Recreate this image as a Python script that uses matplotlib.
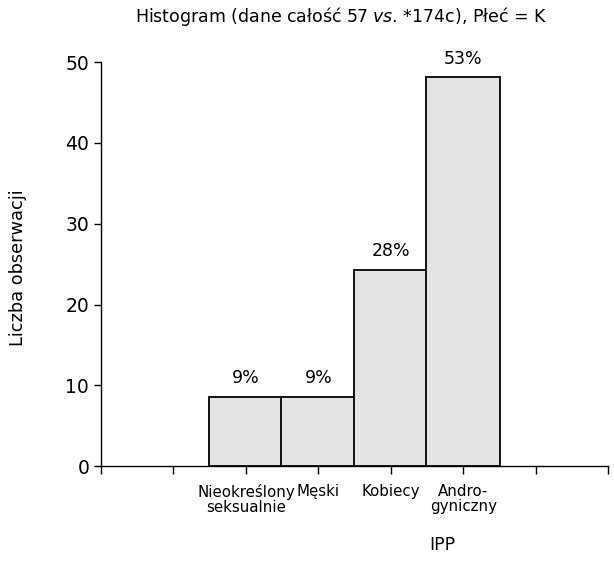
import matplotlib.pyplot as plt

# data
categories = ['Nieokreślony\nseksualnie', 'Męski', 'Kobiecy', 'Andro-\ngyniczny']
counts = [8.6, 8.6, 24.3, 48.1]
percents = ['9%', '9%', '28%', '53%']
positions = [2, 3, 4, 5]

plt.rcParams['font.family'] = ['DejaVu Sans']
plt.rcParams['mathtext.fontset'] = 'custom'
plt.rcParams['mathtext.it'] = 'DejaVu Sans:italic'
plt.rcParams['mathtext.rm'] = 'DejaVu Sans'

fig = plt.figure(figsize=(6.14, 5.72), dpi=100)
ax = fig.add_axes([0.1645, 0.185, 0.826, 0.7066])

ax.bar(positions, counts, width=1.02, color='#e4e4e4', edgecolor='black', linewidth=1.3)

for x, c, p in zip(positions, counts, percents):
    ax.annotate(p, (x, c), xytext=(0, 7), textcoords='offset points',
                ha='center', va='bottom', fontsize=12.5)

ax.set_xlim(0, 7)
ax.set_ylim(0, 50)
ax.set_xticks(range(8))
ax.set_xticklabels([''] * 2 + categories + [''] * 2, fontsize=10.8, linespacing=1.0)
ax.set_yticks(range(0, 51, 10))
ax.tick_params(axis='y', labelsize=13.5, length=5, width=1)
ax.tick_params(axis='x', length=6, width=1, pad=7)

for s in ['top', 'right']:
    ax.spines[s].set_visible(False)
for s in ['left', 'bottom']:
    ax.spines[s].set_linewidth(1)

fig.text(341 / 614, 1 - 17 / 572, 'Histogram (dane całość 57 $\\it{vs}$. *174c), Płeć = K',
         ha='center', va='center', fontsize=12.5)
fig.text(442 / 614, 1 - 545 / 572, 'IPP', ha='center', va='center', fontsize=12.5)
fig.text(18 / 614, 1 - 268 / 572, 'Liczba obserwacji', ha='center', va='center',
         rotation=90, fontsize=12.8)

fig.savefig('out.png', dpi=100)
